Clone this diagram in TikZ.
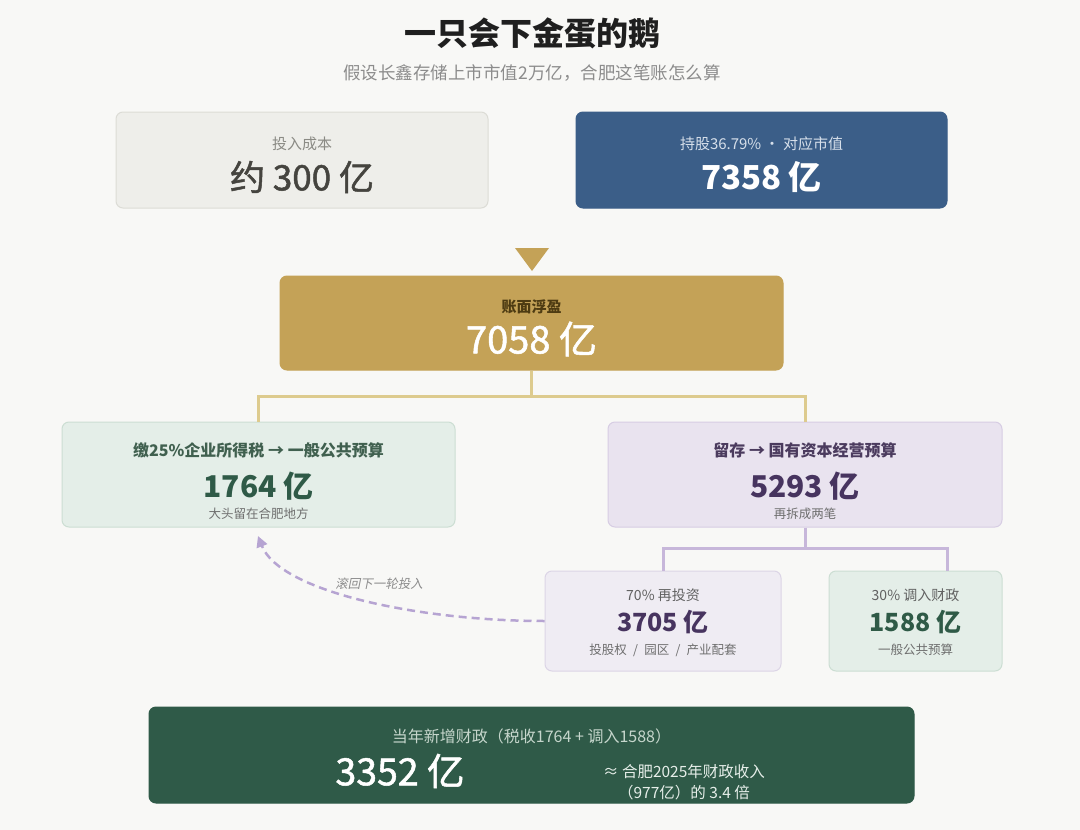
\documentclass[tikz,border=0pt]{standalone}
\usepackage{fontspec}
\setmainfont{Noto Sans CJK SC}
\newfontfamily\slfont[FakeSlant=0.2]{Noto Sans CJK SC}
\newfontfamily\medfont[FakeBold=1.4]{Noto Sans CJK SC}
\usetikzlibrary{arrows.meta}

\definecolor{pagebg}{HTML}{F8F8F6}
\definecolor{costbg}{HTML}{EEEEEA}
\definecolor{costbd}{HTML}{DCDCD6}
\definecolor{costtx}{HTML}{8A8A84}
\definecolor{costnum}{HTML}{45443F}
\definecolor{valbg}{HTML}{3B5E88}
\definecolor{valtx}{HTML}{D6DFEA}
\definecolor{gold}{HTML}{C4A257}
\definecolor{goldtx}{HTML}{4D3B12}
\definecolor{goldln}{HTML}{DDCB8E}
\definecolor{greenbg}{HTML}{E4EEE8}
\definecolor{greenbd}{HTML}{CCDED3}
\definecolor{greentx}{HTML}{40604F}
\definecolor{greennum}{HTML}{2F5A47}
\definecolor{purbg}{HTML}{E9E3EF}
\definecolor{purbd}{HTML}{D7CDE3}
\definecolor{purtx}{HTML}{4B3B5E}
\definecolor{purnum}{HTML}{47345F}
\definecolor{lilac}{HTML}{EFECF3}
\definecolor{lilacbd}{HTML}{DCD5E6}
\definecolor{lilacln}{HTML}{C7B7DA}
\definecolor{dashln}{HTML}{B6A4D2}
\definecolor{deep}{HTML}{2F5A48}
\definecolor{deeptx}{HTML}{C6D6CC}
\definecolor{deepside}{HTML}{E6EEE9}
\definecolor{subgray}{HTML}{6E6E6E}
\definecolor{titlegray}{HTML}{8C8C8C}

\newcommand\fsz[1]{\fontsize{#1}{#1}\selectfont}

\begin{document}
\begin{tikzpicture}[x=1pt,y=-1pt,line width=1pt,
  box/.style={rounded corners=7pt,inner sep=0pt},
  goldlink/.style={draw=goldln,line width=3pt},
  lilink/.style={draw=lilacln,line width=3pt},
  backlink/.style={draw=dashln,line width=2.5pt,dash pattern=on 8pt off 5pt,
    -{Triangle[width=11pt,length=11pt,sep=0pt]}}]
 \fill[pagebg] (0,0) rectangle (1080,830);
 \useasboundingbox (0,0) rectangle (1080,830);

 \node[font=\fsz{32}\bfseries,text=black!88] (title) at (532,33) {一只会下金蛋的鹅};
 \node[font=\fsz{17.5},text=titlegray] (subtitle) at (532,73) {假设长鑫存储上市市值2万亿，合肥这笔账怎么算};

 \foreach \nm/\cx/\cy/\w/\h/\fc/\dc in {cost/302/160/372/96/costbg/costbd,
   value/761.5/160/371/96/valbg/valbg,gain/531.5/323/503/94/gold/gold,
   tax/258.5/474.5/393/105/greenbg/greenbd,keep/805/474.5/394/105/purbg/purbd,
   reinv/663/621/236/100/lilac/lilacbd,transfer/915.5/621/173/100/greenbg/greenbd,
   total/531.5/755/765/96/deep/deep}{%
   \node[box,fill=\fc,draw=\dc,minimum width=\w pt,minimum height=\h pt] (\nm) at (\cx,\cy) {};
 }

 \fill[gold] (515,248) -- (549,248) -- (532,271) -- cycle;

 \node[font=\fsz{15},text=costtx] (costlab) at (302,144) {投入成本};
 \node[font=\medfont\fsz{35},text=costnum] (costnum) at (302,177) {约 300 亿};
 \node[font=\fsz{15},text=valtx] (vallab) at (761.5,144) {持股36.79\% · 对应市值};
 \node[font=\fsz{33}\bfseries,text=white] (valnum) at (761.5,177) {7358 亿};
 \node[font=\fsz{15}\bfseries,text=goldtx] (gainlab) at (531.5,307) {账面浮盈};
 \node[font=\medfont\fsz{38},text=white] (gainnum) at (531.5,339) {7058 亿};

 \coordinate (gfork) at (531.5,396);
 \draw[goldlink] (gain.south) -- (gfork);
 \draw[goldlink] (tax.north) |- (gfork) -| (keep.north);

 \foreach \nm/\cx/\tc/\nc/\lab/\num/\sub in {taxt/258.5/greentx/greennum/{缴25\%企业所得税 → 一般公共预算}/1764 亿/大头留在合肥地方,
   keept/805/purtx/purnum/{留存 → 国有资本经营预算}/5293 亿/再拆成两笔}{%
   \node[font=\fsz{16}\bfseries,text=\tc] (\nm-lab) at (\cx,450) {\lab};
   \node[font=\fsz{30}\bfseries,text=\nc] (\nm-num) at (\cx,486) {\num};
   \node[font=\fsz{12.5},text=subgray] (\nm-sub) at (\cx,514) {\sub};
 }

 \coordinate (kfork) at (805,548);
 \coordinate (tin) at (947,571);
 \draw[lilink] (keep.south) -- (kfork);
 \draw[lilink] (reinv.north) |- (kfork) -| (tin);

 \foreach \nm/\cx/\nc/\lab/\num/\sub in {reinvt/663/purnum/{70\% 再投资}/3705 亿/{投股权\enspace{}/\enspace{}园区\enspace{}/\enspace{}产业配套},
   transt/915.5/greennum/{30\% 调入财政}/1588 亿/一般公共预算}{%
   \node[font=\fsz{14},text=black!62] (\nm-lab) at (\cx,595) {\lab};
   \node[font=\fsz{25}\bfseries,text=\nc] (\nm-num) at (\cx,622) {\num};
   \node[font=\fsz{12.5},text=subgray] (\nm-sub) at (\cx,650) {\sub};
 }

 \coordinate (tback) at (258,536);
 \draw[backlink] (reinv.west) .. controls (420,621) and (280,592) .. (tback);
 \node[font=\slfont\fsz{12.5},text=titlegray] (backlab) at (379,584) {滚回下一轮投入};

 \node[font=\fsz{16},text=deeptx] (totallab) at (531.5,736) {当年新增财政（税收1764 + 调入1588）};
 \node[font=\medfont\fsz{37.5},text=white] (totalnum) at (400,771) {3352 亿};
 \node[font=\fsz{15.5},text=deepside,align=center,inner sep=0pt] (totalside) at (684,782)
   {≈ 合肥2025年财政收入\\[5pt]（977亿）的 3.4 倍};
\end{tikzpicture}
\end{document}
